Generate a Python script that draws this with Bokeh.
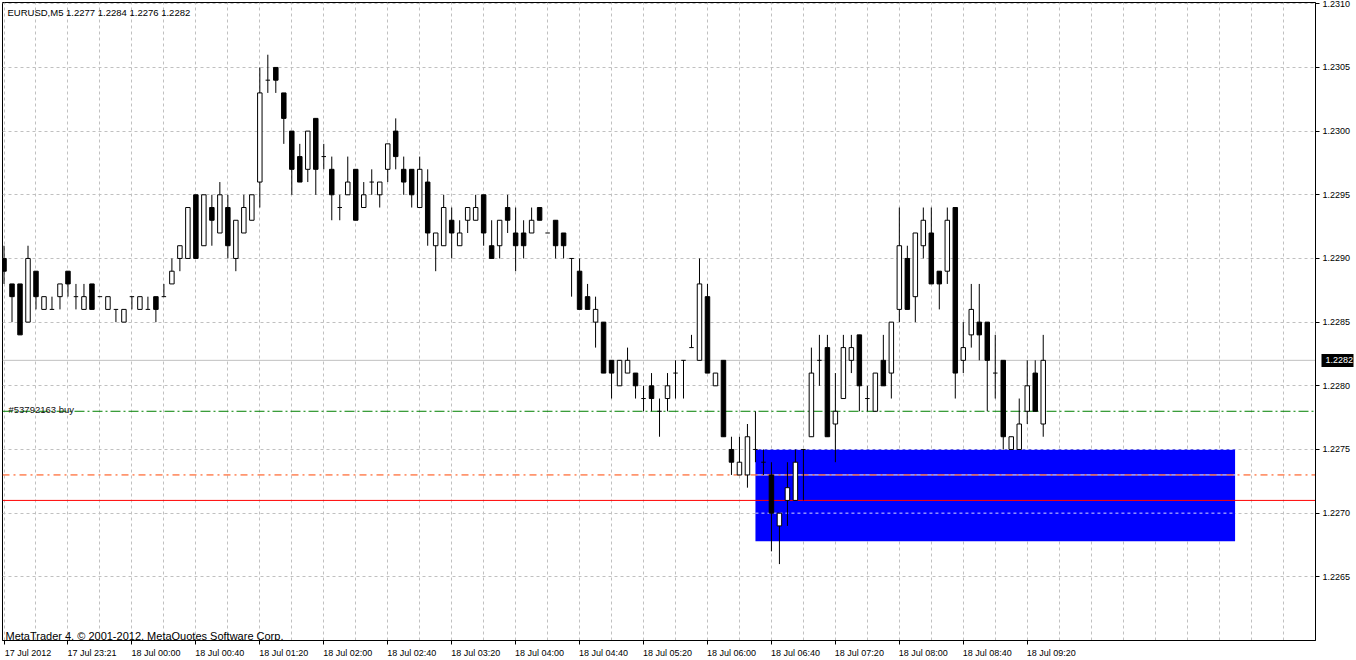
from bokeh.plotting import figure
from bokeh.models import (Range1d, FixedTicker, PrintfTickFormatter, Label, LinearAxis,
                          CustomJSTickFormatter)
from bokeh.embed import file_html
from bokeh.resources import INLINE

# ---------------- data (EURUSD M5, 17-18 Jul 2012) ----------------
opens = [1.2290, 1.2288, 1.2288, 1.2285, 1.2289, 1.2286, 1.2286, 1.2287, 1.2289, 1.2287,
         1.2286, 1.2288, 1.2287, 1.2286, 1.2286, 1.2285, 1.2287, 1.2286, 1.2286, 1.2287,
         1.2287, 1.2288, 1.2290, 1.2290, 1.2295, 1.2291, 1.2294, 1.2292, 1.2294, 1.2290,
         1.2292, 1.2293, 1.2296, 1.2304, 1.2305, 1.2303, 1.2300, 1.2298, 1.2297, 1.2301,
         1.2298, 1.2297, 1.2294, 1.2295, 1.2297, 1.2294, 1.2296, 1.2295, 1.2297, 1.2300,
         1.2297, 1.2297, 1.2294, 1.2296, 1.2291, 1.2291, 1.2293, 1.2291, 1.2293, 1.2293,
         1.2295, 1.2291, 1.2291, 1.2294, 1.2292, 1.2292, 1.2292, 1.2294, 1.2292, 1.2293,
         1.2292, 1.2290, 1.2289, 1.2287, 1.2285, 1.2285, 1.2282, 1.2280, 1.2281, 1.2281,
         1.2279, 1.2280, 1.2278, 1.2279, 1.2281, 1.2282, 1.2283, 1.2282, 1.2287, 1.2280,
         1.2282, 1.2275, 1.2273, 1.2273, 1.2275, 1.2274, 1.2273, 1.2269, 1.2271, 1.2271,
         1.2275, 1.2276, 1.2282, 1.2283, 1.2277, 1.2279, 1.2282, 1.2284, 1.2279, 1.2278,
         1.2282, 1.2281, 1.2286, 1.2290, 1.2287, 1.2291, 1.2292, 1.2289, 1.2289, 1.2294,
         1.2282, 1.2284, 1.2285, 1.2285, 1.2281, 1.2282, 1.2275, 1.2275, 1.2278, 1.2281,
         1.2277]
highs = [1.2291, 1.2288, 1.2288, 1.2291, 1.2289, 1.2287, 1.2287, 1.2288, 1.2289, 1.2288,
         1.2288, 1.2288, 1.2287, 1.2287, 1.2286, 1.2286, 1.2287, 1.2287, 1.2287, 1.2287,
         1.2288, 1.2290, 1.2291, 1.2294, 1.2295, 1.2295, 1.2295, 1.2296, 1.2295, 1.2293,
         1.2295, 1.2295, 1.2305, 1.2306, 1.2305, 1.2303, 1.2300, 1.2299, 1.2300, 1.2301,
         1.2299, 1.2298, 1.2295, 1.2298, 1.2297, 1.2296, 1.2297, 1.2296, 1.2299, 1.2301,
         1.2298, 1.2297, 1.2298, 1.2297, 1.2292, 1.2295, 1.2294, 1.2293, 1.2294, 1.2295,
         1.2295, 1.2293, 1.2293, 1.2295, 1.2294, 1.2293, 1.2294, 1.2294, 1.2292, 1.2293,
         1.2292, 1.2290, 1.2290, 1.2288, 1.2287, 1.2285, 1.2282, 1.2282, 1.2283, 1.2281,
         1.2280, 1.2281, 1.2279, 1.2281, 1.2282, 1.2282, 1.2284, 1.2290, 1.2288, 1.2281,
         1.2282, 1.2276, 1.2276, 1.2277, 1.2278, 1.2275, 1.2274, 1.2270, 1.2274, 1.2275,
         1.2275, 1.2283, 1.2284, 1.2284, 1.2281, 1.2284, 1.2284, 1.2284, 1.2280, 1.2281,
         1.2284, 1.2285, 1.2294, 1.2291, 1.2292, 1.2294, 1.2294, 1.2289, 1.2294, 1.2294,
         1.2285, 1.2288, 1.2288, 1.2285, 1.2284, 1.2282, 1.2276, 1.2279, 1.2282, 1.2282,
         1.2284]
lows = [1.2288, 1.2285, 1.2284, 1.2285, 1.2286, 1.2286, 1.2286, 1.2286, 1.2287, 1.2286,
        1.2286, 1.2286, 1.2287, 1.2286, 1.2285, 1.2285, 1.2286, 1.2286, 1.2286, 1.2285,
        1.2287, 1.2288, 1.2289, 1.2290, 1.2290, 1.2291, 1.2291, 1.2292, 1.2290, 1.2289,
        1.2292, 1.2293, 1.2294, 1.2303, 1.2303, 1.2299, 1.2295, 1.2296, 1.2296, 1.2295,
        1.2297, 1.2293, 1.2293, 1.2295, 1.2293, 1.2294, 1.2295, 1.2294, 1.2296, 1.2297,
        1.2295, 1.2294, 1.2294, 1.2291, 1.2289, 1.2291, 1.2290, 1.2291, 1.2292, 1.2293,
        1.2291, 1.2290, 1.2290, 1.2292, 1.2289, 1.2290, 1.2292, 1.2293, 1.2292, 1.2290,
        1.2290, 1.2287, 1.2286, 1.2286, 1.2283, 1.2281, 1.2279, 1.2280, 1.2281, 1.2279,
        1.2278, 1.2278, 1.2276, 1.2278, 1.2279, 1.2279, 1.2283, 1.2282, 1.2281, 1.2280,
        1.2276, 1.2273, 1.2273, 1.2272, 1.2274, 1.2273, 1.2267, 1.2266, 1.2269, 1.2271,
        1.2271, 1.2276, 1.2280, 1.2276, 1.2274, 1.2279, 1.2281, 1.2278, 1.2278, 1.2278,
        1.2280, 1.2279, 1.2285, 1.2286, 1.2285, 1.2290, 1.2288, 1.2286, 1.2288, 1.2279,
        1.2281, 1.2283, 1.2282, 1.2278, 1.2279, 1.2275, 1.2275, 1.2275, 1.2277, 1.2278,
        1.2276]
closes = [1.2289, 1.2287, 1.2284, 1.2290, 1.2287, 1.2287, 1.2286, 1.2288, 1.2288, 1.2287,
          1.2287, 1.2286, 1.2287, 1.2287, 1.2286, 1.2286, 1.2287, 1.2287, 1.2286, 1.2286,
          1.2287, 1.2289, 1.2291, 1.2294, 1.2290, 1.2295, 1.2293, 1.2295, 1.2291, 1.2293,
          1.2294, 1.2295, 1.2303, 1.2304, 1.2304, 1.2301, 1.2297, 1.2296, 1.2300, 1.2297,
          1.2298, 1.2295, 1.2294, 1.2296, 1.2293, 1.2295, 1.2296, 1.2296, 1.2299, 1.2298,
          1.2296, 1.2295, 1.2297, 1.2292, 1.2292, 1.2294, 1.2292, 1.2292, 1.2294, 1.2294,
          1.2292, 1.2290, 1.2293, 1.2293, 1.2291, 1.2291, 1.2293, 1.2293, 1.2292, 1.2291,
          1.2291, 1.2290, 1.2286, 1.2286, 1.2286, 1.2281, 1.2281, 1.2282, 1.2282, 1.2280,
          1.2279, 1.2279, 1.2278, 1.2280, 1.2281, 1.2282, 1.2283, 1.2288, 1.2281, 1.2281,
          1.2276, 1.2274, 1.2274, 1.2276, 1.2275, 1.2274, 1.2270, 1.2270, 1.2272, 1.2274,
          1.2275, 1.2281, 1.2282, 1.2276, 1.2278, 1.2283, 1.2283, 1.2280, 1.2279, 1.2281,
          1.2280, 1.2285, 1.2291, 1.2286, 1.2292, 1.2293, 1.2288, 1.2288, 1.2293, 1.2281,
          1.2283, 1.2286, 1.2284, 1.2282, 1.2281, 1.2276, 1.2276, 1.2277, 1.2280, 1.2278,
          1.2282]

time_tick_bars = [0, 8, 16, 24, 32, 40, 48, 56, 64, 72, 80, 88, 96, 104, 112, 120, 128]
time_tick_labels = ["17 Jul 2012", "17 Jul 23:21", "18 Jul 00:00", "18 Jul 00:40", "18 Jul 01:20",
                    "18 Jul 02:00", "18 Jul 02:40", "18 Jul 03:20", "18 Jul 04:00", "18 Jul 04:40",
                    "18 Jul 05:20", "18 Jul 06:00", "18 Jul 06:40", "18 Jul 07:20", "18 Jul 08:00",
                    "18 Jul 08:40", "18 Jul 09:20"]
price_ticks = [1.2265, 1.2270, 1.2275, 1.2280, 1.2285, 1.2290, 1.2295, 1.2300, 1.2305, 1.2310]
grid_bars = list(range(0, 165, 4))

bid_price = 1.2282
order_price = 1.2278
orange_level = 1.2273
red_level = 1.2271
rect_bars = [94, 154]
rect_prices = [1.22678, 1.2275]

x_view = [-0.19, 164.06]
y_view = [1.2260, 1.23101]

title_text = "EURUSD,M5  1.2277 1.2284 1.2276 1.2282"
order_text = "#53792163 buy"
copyright_text = "MetaTrader 4, \u00a9 2001-2012, MetaQuotes Software Corp."

FONT = "Liberation Sans"
HW = 0.28          # half body width, in bars
LABEL_SHIFT = 3.0  # time labels start just right of their tick (labels are centred by Bokeh)

# ---------------- figure ----------------
p = figure(width=1356, height=660, output_backend="svg", toolbar_location=None,
           x_range=Range1d(*x_view), y_range=Range1d(*y_view),
           y_axis_location="right", min_border_left=2, min_border_top=2,
           min_border_right=40, min_border_bottom=17)
p.background_fill_color = "white"
p.border_fill_color = "white"
p.outline_line_color = "black"
p.outline_line_width = 1

# grid
p.xgrid[0].ticker = FixedTicker(ticks=grid_bars)
p.ygrid[0].ticker = FixedTicker(ticks=price_ticks)
for g in (p.xgrid[0], p.ygrid[0]):
    g.grid_line_color = "#c0c0c0"
    g.grid_line_dash = "3 3"
    g.grid_line_width = 1

# price axis (right)
ya = p.yaxis[0]
ya.ticker = FixedTicker(ticks=price_ticks)
ya.formatter = PrintfTickFormatter(format="%.4f")
ya.major_label_text_font = FONT
ya.major_label_text_font_size = "9px"
ya.major_label_text_color = "black"
ya.major_tick_in = 0
ya.major_tick_out = 4
ya.minor_tick_line_color = None
ya.major_label_standoff = 3
ya.axis_line_color = "black"

# time axis (bottom): tick marks at the bars, labels just to their right
xa = p.xaxis[0]
xa.ticker = FixedTicker(ticks=[b + LABEL_SHIFT for b in time_tick_bars], minor_ticks=time_tick_bars)
xa.formatter = CustomJSTickFormatter(args=dict(labels=time_tick_labels), code="return labels[index]")
xa.major_tick_in = 0
xa.major_tick_out = 0
xa.minor_tick_in = 0
xa.minor_tick_out = 4
xa.minor_tick_line_color = "black"
xa.major_label_standoff = 3
xa.major_label_text_font = FONT
xa.major_label_text_font_size = "9px"
xa.major_label_text_color = "black"
xa.axis_line_color = "black"

# current bid price box: an outer price scale whose single thick tick points back inwards
bax = LinearAxis(ticker=FixedTicker(ticks=[bid_price]), formatter=PrintfTickFormatter(format="%.4f"))
bax.major_tick_in = 32
bax.major_tick_out = 0
bax.major_tick_line_width = 13
bax.major_tick_line_color = "black"
bax.minor_tick_line_color = None
bax.axis_line_color = None
bax.major_label_standoff = -28
bax.major_label_text_color = "white"
bax.major_label_text_font = FONT
bax.major_label_text_font_size = "9px"
p.add_layout(bax, "right")

# blue rectangle
p.quad(left=[rect_bars[0]], right=[rect_bars[1]], bottom=[rect_prices[0]], top=[rect_prices[1]],
       fill_color="#0000ff", line_color=None)
# grid lines seen through the rectangle
p.segment(x0=[rect_bars[0]] * 2, x1=[rect_bars[1]] * 2, y0=[price_ticks[1], price_ticks[2]],
          y1=[price_ticks[1], price_ticks[2]], line_color="#d8d8ff", line_dash="3 3", line_width=1)
p.segment(x0=[rect_bars[0]], x1=[rect_bars[1]], y0=[orange_level], y1=[orange_level],
          line_color="white", line_width=1)

# horizontal levels
p.segment(x0=[x_view[0]], x1=[x_view[1]], y0=[bid_price], y1=[bid_price],
          line_color="#c0c0c0", line_width=1)
p.segment(x0=[x_view[0]], x1=[x_view[1]], y0=[order_price], y1=[order_price],
          line_color="#008000", line_width=1, line_dash="10 3 2 3")
p.segment(x0=[x_view[0]], x1=[x_view[1]], y0=[orange_level], y1=[orange_level],
          line_color="#ff4500", line_width=1, line_dash="7 4 2 4")
p.segment(x0=[x_view[0]], x1=[x_view[1]], y0=[red_level], y1=[red_level],
          line_color="#ff0000", line_width=1)

# candles
idx = list(range(len(opens)))
p.segment(x0=idx, x1=idx, y0=lows, y1=highs, line_color="black", line_width=1)

up = [i for i in idx if closes[i] > opens[i]]
dn = [i for i in idx if closes[i] < opens[i]]
dj = [i for i in idx if closes[i] == opens[i]]

p.quad(left=[i - HW for i in up], right=[i + HW for i in up],
       bottom=[opens[i] for i in up], top=[closes[i] for i in up],
       fill_color="white", line_color="black", line_width=1)
p.quad(left=[i - HW for i in dn], right=[i + HW for i in dn],
       bottom=[closes[i] for i in dn], top=[opens[i] for i in dn],
       fill_color="black", line_color="black", line_width=1)
p.segment(x0=[i - HW for i in dj], x1=[i + HW for i in dj],
          y0=[opens[i] for i in dj], y1=[opens[i] for i in dj], line_color="black", line_width=1)

# texts inside the chart
p.add_layout(Label(x=x_view[0], y=y_view[1], x_offset=5, y_offset=-4, text=title_text,
                   text_font=FONT, text_font_size="9.5px", text_color="black",
                   text_baseline="top", text_align="left"))
p.add_layout(Label(x=x_view[0], y=order_price, x_offset=6, y_offset=2, text=order_text,
                   text_font=FONT, text_font_size="9.5px", text_color="#101010",
                   text_baseline="alphabetic", text_align="left"))
p.add_layout(Label(x=x_view[0], y=y_view[0], x_offset=3, y_offset=5, text=copyright_text,
                   text_font=FONT, text_font_size="11px", text_color="black",
                   text_baseline="alphabetic", text_align="left"))

open("out.html", "w").write(file_html(p, INLINE))
